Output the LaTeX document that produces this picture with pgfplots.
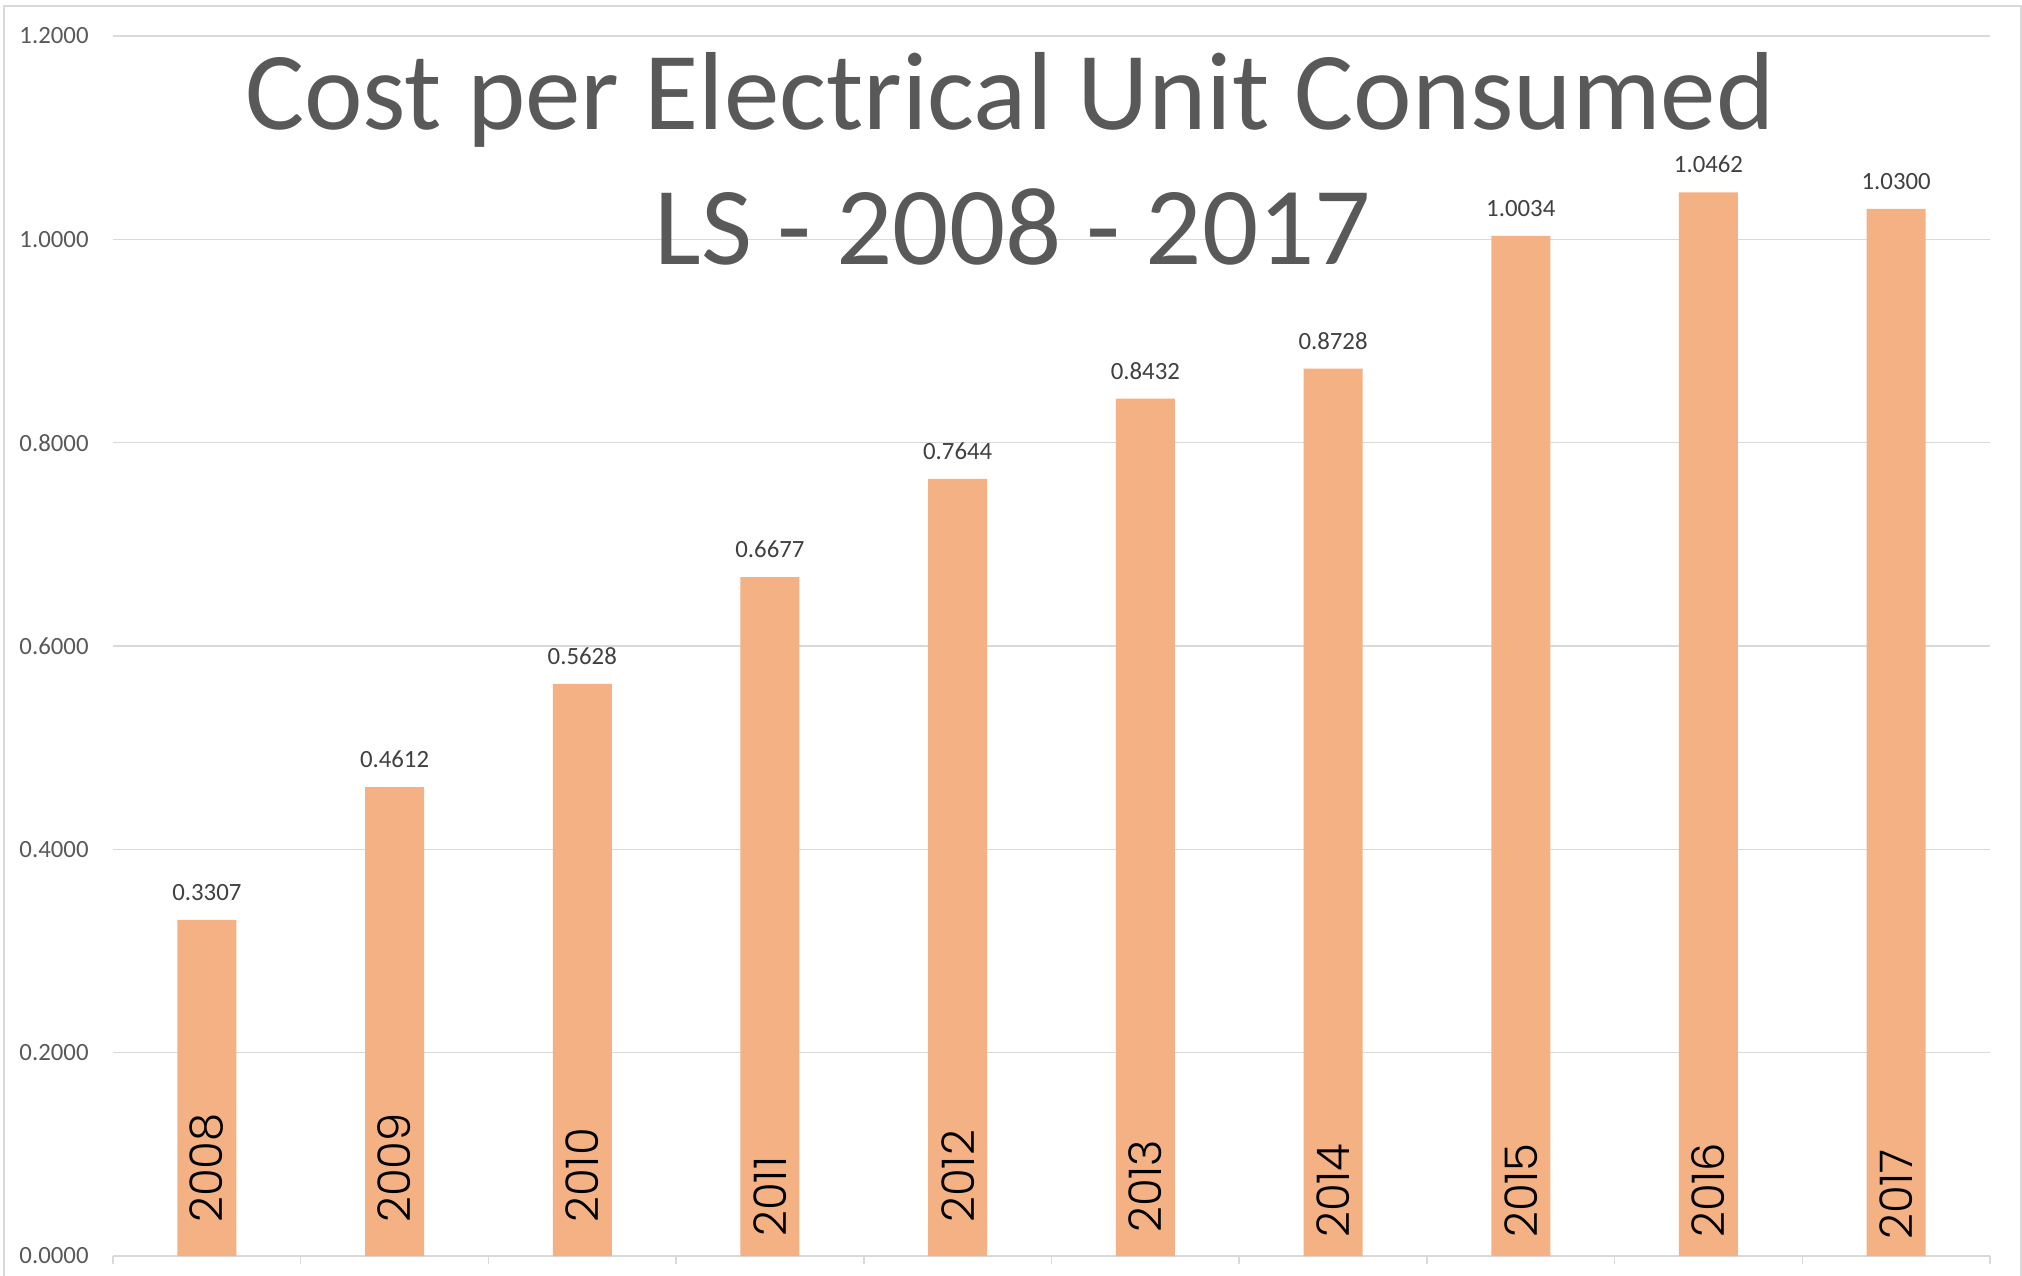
\documentclass[border=0pt]{standalone}
\usepackage{pgfplots}
\pgfplotsset{compat=1.18}
\usepackage{fontspec}
\setmainfont{Carlito}
\newfontfamily\yearfont{Poppins Light}
\definecolor{barfill}{HTML}{F4B183}
\definecolor{gridc}{HTML}{D9D9D9}
\definecolor{txt}{HTML}{595959}
\definecolor{lbl}{HTML}{404040}
\begin{document}
\begin{tikzpicture}
\useasboundingbox (0,0) rectangle (1011pt,637.5pt);
\draw[gridc, line width=0.75pt] (2pt,-10pt) rectangle (1010.5pt,634.5pt);
\begin{axis}[
  at={(56.5pt,9.5pt)}, anchor=south west, scale only axis,
  width=938.5pt, height=610pt,
  xmin=-0.5, xmax=9.5, ymin=0, ymax=1.2,
  ytick={0,0.2,0.4,0.6,0.8,1.0,1.2},
  yticklabel={\pgfmathprintnumber[fixed,fixed zerofill,precision=4,assume math mode=true]{\tick}},
  yticklabel style={font=\fontsize{12.4}{14}\selectfont, text=txt, anchor=east, inner sep=0pt, xshift=-8pt},
  xtick={-0.5,0.5,1.5,2.5,3.5,4.5,5.5,6.5,7.5,8.5,9.5},
  xticklabels={,,,,,,,,,,},
  ymajorgrids, grid style={gridc, line width=0.75pt},
  axis lines*=left,
  y axis line style={draw=none},
  x axis line style={gridc, line width=0.75pt},
  tick align=outside, major tick length=4pt,
  x tick style={gridc, line width=0.75pt},
  y tick style={draw=none},
  clip=false,
]
\addplot[ybar, bar width=29.5pt, fill=barfill, draw=none,
  nodes near coords={\pgfmathprintnumber[fixed,fixed zerofill,precision=4,assume math mode=true]{\pgfplotspointmeta}},
  nodes near coords style={font=\fontsize{12.4}{14}\selectfont, text=lbl, anchor=south, inner sep=0pt, yshift=9.5pt}]
  coordinates {(0,0.3307) (1,0.4612) (2,0.5628) (3,0.6677) (4,0.7644) (5,0.8432) (6,0.8728) (7,1.0034) (8,1.0462) (9,1.0300)};
\begin{scope}[every node/.style={rotate=90, anchor=west, inner sep=0pt, font=\yearfont\fontsize{22.5}{24}\selectfont, text=black}]
\node at (axis cs:0,0.0325) {2008};
\node at (axis cs:1,0.0325) {2009};
\node at (axis cs:2,0.0325) {2010};
\node at (axis cs:3,0.0187) {2011};
\node at (axis cs:4,0.0325) {2012};
\node at (axis cs:5,0.0226) {2013};
\node at (axis cs:6,0.0177) {2014};
\node at (axis cs:7,0.0177) {2015};
\node at (axis cs:8,0.0177) {2016};
\node at (axis cs:9,0.0157) {2017};
\end{scope}
\end{axis}
\node[anchor=base, text=txt, font=\fontsize{55.5}{60}\selectfont, inner sep=0pt] at (505pt,572.5pt) {Cost per Electrical Unit Consumed};
\node[anchor=base, text=txt, font=\fontsize{55.5}{60}\selectfont, inner sep=0pt] at (506.5pt,505pt) {LS - 2008 - 2017};
\end{tikzpicture}
\end{document}
